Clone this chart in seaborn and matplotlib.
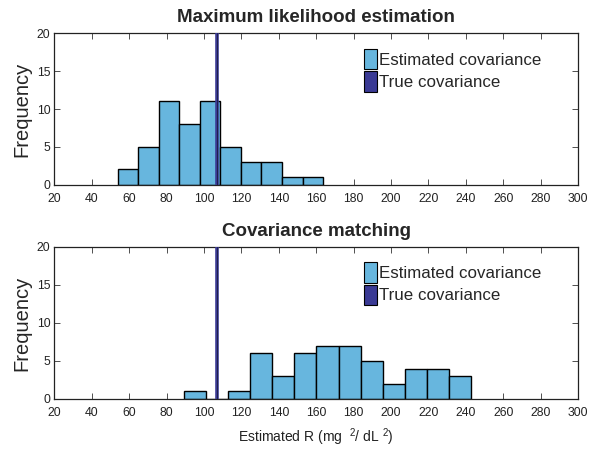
import numpy as np
import pandas as pd
import matplotlib
matplotlib.use("Agg")
import matplotlib.pyplot as plt
import seaborn as sns
from matplotlib.patches import Patch

# ---- data ----
mle_edges = [53.7, 64.7, 75.7, 86.7, 97.7, 108.7, 119.7, 130.7, 141.7, 152.7, 163.7]
mle_counts = [2, 5, 11, 8, 11, 5, 3, 3, 1, 1]
cm_edges = [89.1, 100.9, 112.8, 124.6, 136.4, 148.3, 160.1, 171.9, 183.8, 195.6, 207.4, 219.3, 231.1, 242.9]
cm_counts = [1, 0, 1, 6, 3, 6, 7, 7, 5, 2, 4, 4, 3]
true_cov = 107.0
titles = ["Maximum likelihood estimation", "Covariance matching"]
xticks = list(range(20, 301, 20))
yticks = [0, 5, 10, 15, 20]

sns.set_theme(style="white")
FONT = ["Liberation Sans", "DejaVu Sans"]
plt.rcParams["font.family"] = FONT
plt.rcParams["mathtext.fontset"] = "custom"
plt.rcParams["mathtext.rm"] = "Liberation Sans"
plt.rcParams["mathtext.it"] = "Liberation Sans"

bar_color = "#67b6de"
true_color = "#3a3a94"

fig = plt.figure(figsize=(5.89, 4.49), dpi=100)
ax1 = fig.add_axes([0.0925, 0.589, 0.889, 0.3364])
ax2 = fig.add_axes([0.0925, 0.1114, 0.889, 0.3385])

for ax, edges, counts, title in [(ax1, mle_edges, mle_counts, titles[0]),
                                  (ax2, cm_edges, cm_counts, titles[1])]:
    e = np.array(edges)
    centers = (e[:-1] + e[1:]) / 2
    df = pd.DataFrame({"x": centers, "w": counts})
    sns.histplot(data=df, x="x", weights="w", bins=edges, ax=ax,
                 color=bar_color, alpha=1, edgecolor="black", linewidth=1.0)
    ax.axvline(true_cov, color=true_color, lw=2.6, zorder=5)
    ax.axvline(true_cov, color="#1a1a40", lw=0.6, zorder=6)
    ax.set_xlim(20, 300)
    ax.set_ylim(0, 20)
    ax.set_xticks(xticks)
    ax.set_yticks(yticks)
    ax.tick_params(direction="in", length=4, width=0.6, colors="#333333",
                   labelcolor="#222222", labelsize=8.8, top=True, right=True,
                   bottom=True, left=True)
    ax.tick_params(axis="x", pad=6)
    ax.tick_params(axis="y", pad=3)
    for s in ax.spines.values():
        s.set_color("#222222")
        s.set_linewidth(0.9)
        s.set_visible(True)
    ax.set_title(title, fontsize=13.5, fontweight="bold", pad=8)
    ax.set_ylabel("Frequency", fontsize=14.5, labelpad=4)
    ax.set_xlabel("")
    handles = [Patch(facecolor=bar_color, edgecolor="black", lw=0.8, label="Estimated covariance"),
               Patch(facecolor=true_color, edgecolor="black", lw=0.8, label="True covariance")]
    ax.legend(handles=handles, loc="upper right", bbox_to_anchor=(0.93, 0.9),
              frameon=False, fontsize=12.2, handlelength=0.8, handleheight=1.5,
              handletextpad=0.1, labelspacing=0.1, borderaxespad=0, borderpad=0)

ax2.set_xlabel("Estimated R (mg  $^{2}$/ dL $^{2}$)", fontsize=10, color="#222222", labelpad=5)

fig.savefig("out.png", dpi=100)
